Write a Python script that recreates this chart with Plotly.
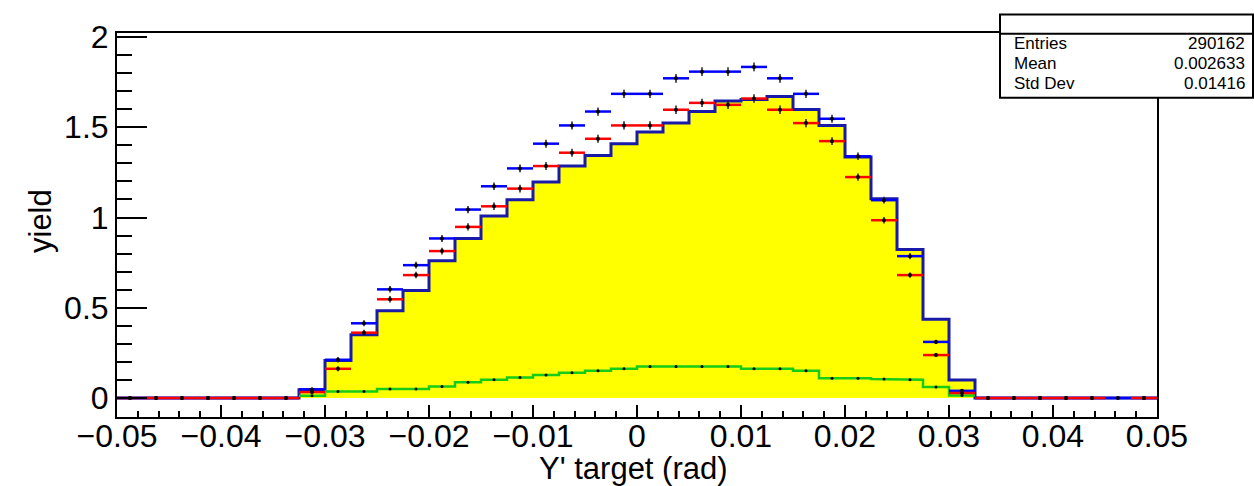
import numpy as np
import plotly.graph_objects as go

# Binning: 40 bins of width 0.0025 rad over [-0.05, 0.05]
bin_edges = np.round(np.linspace(-0.05, 0.05, 41), 5)
bin_lo = bin_edges[:-1]
bin_hi = bin_edges[1:]
bin_centers = (bin_lo + bin_hi) / 2
half_width = (bin_hi - bin_lo) / 2

# Simulated yield (filled histogram)
sim_yield = [0, 0, 0, 0, 0, 0, 0,
             0.046, 0.208, 0.350, 0.484, 0.595, 0.760, 0.884, 1.009, 1.099, 1.197,
             1.285, 1.344, 1.409, 1.473, 1.523, 1.587, 1.646, 1.654, 1.670, 1.598,
             1.510, 1.335, 1.104, 0.823, 0.437, 0.100,
             0, 0, 0, 0, 0, 0, 0]

# Data, first set (blue points)
data_blue = [0, 0, 0, 0, 0, 0, 0,
             0.048, 0.212, 0.414, 0.602, 0.736, 0.884, 1.044, 1.173, 1.272, 1.409,
             1.510, 1.587, 1.685, 1.685, 1.771, 1.808, 1.808, 1.834, 1.771, 1.685,
             1.547, 1.339, 1.096, 0.786, 0.311, 0.040,
             0, 0, 0, 0, 0, 0, 0]
err_blue = [0, 0, 0, 0, 0, 0, 0,
            0.010, 0.015, 0.017, 0.018, 0.019, 0.019, 0.020, 0.021, 0.021, 0.022,
            0.022, 0.023, 0.023, 0.023, 0.024, 0.024, 0.024, 0.024, 0.024, 0.023,
            0.022, 0.021, 0.019, 0.017, 0.012, 0.008,
            0, 0, 0, 0, 0, 0, 0]

# Data, second set (red points)
data_red = [0, 0, 0, 0, 0, 0, 0,
            0.033, 0.162, 0.362, 0.547, 0.681, 0.814, 0.948, 1.062, 1.160, 1.285,
            1.359, 1.436, 1.510, 1.510, 1.597, 1.635, 1.624, 1.659, 1.597, 1.523,
            1.423, 1.224, 0.985, 0.681, 0.238, 0.028,
            0, 0, 0, 0, 0, None, 0]
err_red = [0, 0, 0, 0, 0, 0, 0,
           0.009, 0.014, 0.016, 0.018, 0.018, 0.019, 0.020, 0.021, 0.021, 0.022,
           0.022, 0.022, 0.023, 0.023, 0.023, 0.023, 0.023, 0.024, 0.023, 0.023,
           0.022, 0.020, 0.018, 0.015, 0.010, 0.006,
           0, 0, 0, 0, 0, 0, 0]

# Background component (green)
background = [None, None, None, None, None, None, None,
              0.013, 0.036, 0.036, 0.050, 0.050, 0.064, 0.088, 0.101, 0.114, 0.128,
              0.140, 0.151, 0.162, 0.175, 0.175, 0.175, 0.175, 0.162, 0.162, 0.151,
              0.110, 0.110, 0.105, 0.101, 0.061, 0.014,
              None, None, None, None, None, None, None]

stats_labels = ["Entries", "Mean", "Std Dev"]
stats_values = ["290162", "0.002633", "0.01416"]

x_title = "Y' target (rad)"
y_title = "yield"

# Canvas geometry (pixels)
W, H = 1254, 486
FL, FR, FT, FB = 117, 1157, 32.5, 417.5


def px_x(px):
    return (px - FL) / (FR - FL)


def px_y(py):
    return (FB - py) / (FB - FT)


def step_path(values):
    xs, ys = [], []
    for lo, hi, v in zip(bin_lo, bin_hi, values):
        if v is None:
            xs.append(None)
            ys.append(None)
            continue
        xs += [lo, hi]
        ys += [v, v]
    return xs, ys


fig = go.Figure()

hx, hy = step_path(sim_yield)
fig.add_trace(go.Scatter(
    x=hx, y=hy, mode="lines", fill="tozeroy", fillcolor="#ffff00",
    line=dict(color="#1a1aa8", width=3), hoverinfo="skip", showlegend=False))

gx, gy = step_path(background)
fig.add_trace(go.Scatter(
    x=gx, y=gy, mode="lines", line=dict(color="#16cc16", width=2.5),
    hoverinfo="skip", showlegend=False))
fig.add_trace(go.Scatter(
    x=bin_centers, y=background, mode="markers",
    marker=dict(color="black", size=3), showlegend=False))


def point_trace(values, errors, color):
    return go.Scatter(
        x=bin_centers, y=values, mode="markers",
        marker=dict(color="black", size=4),
        error_x=dict(type="data", array=half_width, color=color,
                     thickness=2.5, width=0),
        error_y=dict(type="data", array=errors, color="#202020",
                     thickness=1.5, width=0),
        showlegend=False)


fig.add_trace(point_trace(data_blue, err_blue, "#0000ff"))
fig.add_trace(point_trace(data_red, err_red, "#ff0000"))

tick_font = dict(family="Liberation Sans, Arial, sans-serif", size=32, color="black")
title_font = dict(family="Liberation Sans, Arial, sans-serif", size=31, color="black")

fig.update_xaxes(
    range=[-0.05, 0.05], dtick=0.01, tick0=0, ticks="inside", ticklen=12,
    tickwidth=1.5, tickcolor="black", ticklabelstandoff=-10,
    minor=dict(dtick=0.002, ticks="inside", ticklen=6, tickwidth=1.5, tickcolor="black"),
    showline=True, mirror=True, linecolor="black", linewidth=2,
    showgrid=False, zeroline=False, tickfont=tick_font)
fig.update_yaxes(
    range=[-0.105, 2.022], dtick=0.5, tick0=0, ticks="inside", ticklen=30,
    tickwidth=1.5, tickcolor="black",
    minor=dict(dtick=0.1, ticks="inside", ticklen=15, tickwidth=1.5, tickcolor="black"),
    showline=True, mirror=True, linecolor="black", linewidth=2,
    showgrid=False, zeroline=False, tickfont=tick_font)

shapes = [
    # statistics box
    dict(type="rect", xref="paper", yref="paper",
         x0=px_x(1000), x1=px_x(1253), y0=px_y(97.5), y1=px_y(14),
         fillcolor="white", line=dict(color="black", width=2), layer="above"),
    dict(type="line", xref="paper", yref="paper",
         x0=px_x(1000), x1=px_x(1253), y0=px_y(33.3), y1=px_y(33.3),
         line=dict(color="black", width=2), layer="above"),
]

stat_font = dict(family="Liberation Sans, Arial, sans-serif", size=17, color="black")
annotations = []
for i, (lab, val) in enumerate(zip(stats_labels, stats_values)):
    yc = px_y(43.5 + 20 * i)
    annotations.append(dict(text=lab, xref="paper", yref="paper", x=px_x(1012), y=yc,
                            xanchor="left", yanchor="middle", showarrow=False, font=stat_font))
    annotations.append(dict(text=val, xref="paper", yref="paper", x=px_x(1247), y=yc,
                            xanchor="right", yanchor="middle", showarrow=False, font=stat_font))

annotations.append(dict(text=x_title, xref="paper", yref="paper", x=px_x(633), y=px_y(469),
                        xanchor="center", yanchor="middle", showarrow=False, font=title_font))
annotations.append(dict(text=y_title, xref="paper", yref="paper", x=px_x(40), y=px_y(221),
                        xanchor="center", yanchor="middle", showarrow=False, textangle=-90,
                        font=title_font))

fig.update_layout(
    width=W, height=H,
    margin=dict(l=FL, r=W - FR, t=FT, b=H - FB, autoexpand=False),
    paper_bgcolor="white", plot_bgcolor="white",
    shapes=shapes, annotations=annotations,
)

fig.write_html("out.html")
